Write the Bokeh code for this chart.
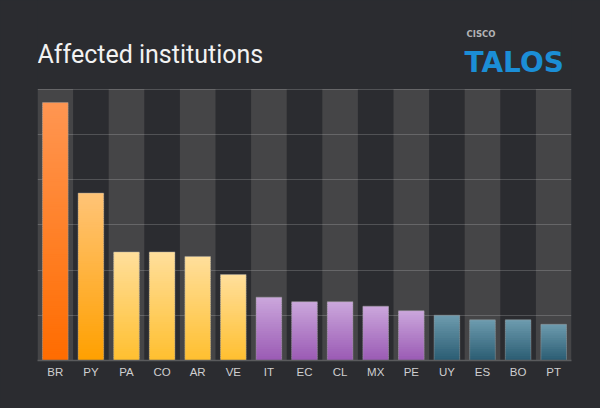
from bokeh.plotting import figure
from bokeh.models import Range1d, Label, FactorRange
from bokeh.embed import file_html
from bokeh.resources import INLINE

countries = ["BR", "PY", "PA", "CO", "AR", "VE", "IT", "EC", "CL", "MX", "PE", "UY", "ES", "BO", "PT"]
institutions = [57, 37, 24, 24, 23, 19, 14, 13, 13, 12, 11, 10, 9, 9, 8]
groups = ["br", "py", "mid", "mid", "mid", "mid", "eu", "eu", "eu", "eu", "eu", "low", "low", "low", "low"]
grid_values = [10, 20, 30, 40, 50, 60]
y_max = 60

# gradient colours per group: (bottom, top)
group_colors = {
    "br": ("#ff6c00", "#ff9652"),
    "py": ("#ffa000", "#ffc477"),
    "mid": ("#ffbf2f", "#ffdf9c"),
    "eu": ("#9a5ab4", "#cba7dc"),
    "low": ("#2a5c72", "#6e9caf"),
}

BG = "#2b2c30"
BAND = "#454547"

W, H = 600, 408
LEFT, RIGHT, BOTTOM = 37, 29, 48
TOP_PX = 88.5  # pixel row of the top grid line
frame_h = H - BOTTOM
y_end = frame_h / (frame_h - TOP_PX) * y_max


def hex2rgb(h):
    h = h.lstrip("#")
    return tuple(int(h[i:i + 2], 16) for i in (0, 2, 4))


def mix(c0, c1, t):
    a, b = hex2rgb(c0), hex2rgb(c1)
    return "#%02x%02x%02x" % tuple(int(round(a[i] + (b[i] - a[i]) * t)) for i in range(3))


p = figure(width=W, height=H, x_range=FactorRange(*countries), y_range=Range1d(0, y_end),
           output_backend="svg", toolbar_location=None,
           min_border_left=LEFT, min_border_right=RIGHT, min_border_top=0, min_border_bottom=BOTTOM)
p.background_fill_color = BG
p.border_fill_color = BG
p.outline_line_color = None
p.xgrid.visible = False
p.ygrid.visible = False
p.yaxis.visible = False

# alternating column bands
band_x = [c for i, c in enumerate(countries) if i % 2 == 0]
p.vbar(x=band_x, width=1.0, bottom=0, top=y_max, fill_color=BAND, line_color=None)

# horizontal grid lines
p.hspan(y=grid_values, line_color="#ffffff", line_alpha=0.18, line_width=1)

# gradient bars built from thin stacked slices
STEP = 0.5
xs, bots, tops, cols = [], [], [], []
for c, v, g in zip(countries, institutions, groups):
    c0, c1 = group_colors[g]
    n = int(round(v / STEP))
    for k in range(n):
        b = v * k / n
        t = v * (k + 1) / n
        if k < n - 1:
            t += v * 0.5 / n
        xs.append(c)
        bots.append(b)
        tops.append(t)
        cols.append(mix(c0, c1, (k + 0.5) / n))
p.vbar(x=xs, width=0.72, bottom=bots, top=tops, fill_color=cols, line_color=None)
p.vbar(x=countries, width=0.72, bottom=0, top=institutions, fill_color=None,
       line_color="#a0a0a0", line_alpha=0.45, line_width=1)

ax = p.xaxis[0]
ax.axis_line_color = "#5a5b5d"
ax.axis_line_width = 1.5
ax.major_tick_line_color = None
ax.minor_tick_line_color = None
ax.major_label_text_color = "#cfcfd0"
ax.major_label_text_font = "Liberation Sans"
ax.major_label_text_font_size = "11.5px"
ax.major_label_standoff = -1

title = Label(x=0, y=frame_h - 54.3, x_units="screen", y_units="screen", text="Affected institutions",
              text_font="Roboto", text_font_size="25px", text_color="#f2f2f2",
              text_baseline="alphabetic")
cisco = Label(x=429, y=frame_h - 33, x_units="screen", y_units="screen", text="CISCO",
              text_font="DejaVu Sans", text_font_size="8.5px", text_font_style="bold",
              text_color="#b4b4b6", text_baseline="alphabetic")
talos = Label(x=427, y=frame_h - 61.5, x_units="screen", y_units="screen", text="TALOS",
              text_font="DejaVu Sans", text_font_size="28px", text_font_style="bold",
              text_color="#1b8ed6", text_baseline="alphabetic")
for lab in (title, cisco, talos):
    p.add_layout(lab)

html = file_html(p, INLINE)
html = html.replace("<head>", "<head><style>html,body{background:#2b2c30;}</style>", 1)
open("out.html", "w").write(html)
